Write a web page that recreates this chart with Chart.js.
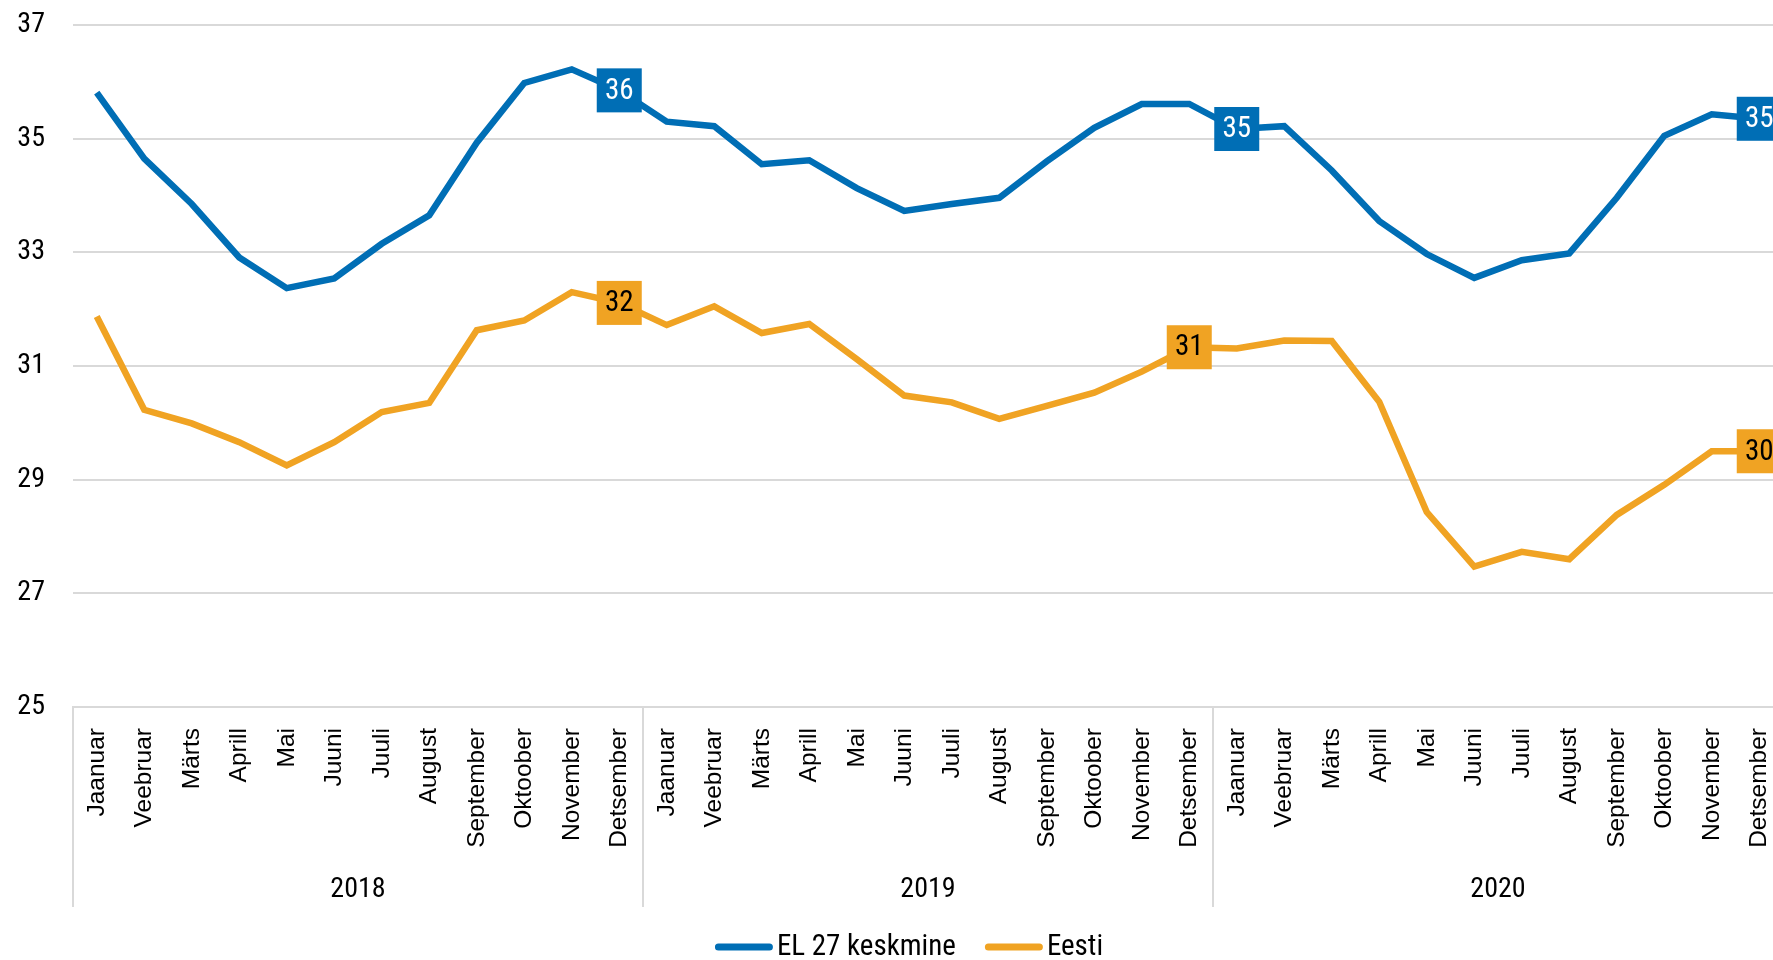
<!DOCTYPE html>
<html>
<head>
<meta charset="utf-8">
<script src="https://cdn.jsdelivr.net/npm/chart.js@4"></script>
<style>
  html, body { margin: 0; padding: 0; background: #fff; overflow: hidden; }
  canvas { display: block; }
</style>
</head>
<body>
<canvas id="chart" width="1818" height="960"></canvas>
<script>
// data
const months = ['Jaanuar', 'Veebruar', 'Märts', 'Aprill', 'Mai', 'Juuni', 'Juuli', 'August', 'September', 'Oktoober', 'November', 'Detsember'];
const years = ['2018', '2019', '2020'];
const labels = [...months, ...months, ...months];

const el27 = [
    35.81, 34.65, 33.85, 32.91, 32.37, 32.54, 33.15, 33.65, 34.93, 35.98, 36.22, 35.85,
    35.30, 35.22, 34.55, 34.62, 34.13, 33.73, 33.85, 33.96, 34.60, 35.19, 35.61, 35.61,
    35.17, 35.22, 34.44, 33.55, 32.97, 32.55, 32.86, 32.98, 33.96, 35.05, 35.43, 35.35
];
const eesti = [
    31.87, 30.23, 29.99, 29.66, 29.25, 29.66, 30.19, 30.35, 31.63, 31.80, 32.30, 32.11,
    31.72, 32.05, 31.58, 31.74, 31.12, 30.48, 30.36, 30.07, 30.30, 30.53, 30.90, 31.33,
    31.31, 31.45, 31.44, 30.37, 28.43, 27.47, 27.73, 27.60, 28.38, 28.91, 29.50, 29.50
];
// which points get a value box
const el27Marked = [11, 24, 35];
const eestiMarked = [11, 23, 35];

const BLUE = '#006eb5';
const ORANGE = '#f0a323';
const GRID = '#d9d9d9';
const NARROW = "'Liberation Sans Narrow', 'Roboto Condensed', 'DejaVu Sans Condensed', sans-serif";
const WIDE = "'Liberation Sans', Arial, sans-serif";

// value boxes on the lines
const valueBoxes = {
    id: 'valueBoxes',
    afterDatasetsDraw(chart) {
        const ctx = chart.ctx;
        const sets = [
            { idx: el27Marked, meta: chart.getDatasetMeta(0), data: el27, fill: BLUE, text: '#fff' },
            { idx: eestiMarked, meta: chart.getDatasetMeta(1), data: eesti, fill: ORANGE, text: '#000' }
        ];
        ctx.save();
        ctx.font = '29px ' + NARROW;
        ctx.textAlign = 'center';
        ctx.textBaseline = 'middle';
        sets.forEach(s => {
            s.idx.forEach(i => {
                const p = s.meta.data[i];
                ctx.fillStyle = s.fill;
                ctx.fillRect(p.x - 22.5, p.y - 22, 45, 44);
                ctx.fillStyle = s.text;
                ctx.fillText(Math.round(s.data[i]).toString(), p.x, p.y + 1);
            });
        });
        ctx.restore();
    }
};

// year groups under the month labels + legend
const yearGroups = {
    id: 'yearGroups',
    afterDraw(chart) {
        const ctx = chart.ctx;
        const area = chart.chartArea;
        const x = chart.scales.x;
        ctx.save();
        ctx.strokeStyle = GRID;
        ctx.lineWidth = 2;
        ctx.fillStyle = '#000';
        ctx.font = '28px ' + NARROW;
        ctx.textAlign = 'center';
        ctx.textBaseline = 'middle';
        let start = area.left;
        years.forEach((yr, g) => {
            const last = g * 12 + 11;
            const end = last + 1 < labels.length
                ? (x.getPixelForValue(last) + x.getPixelForValue(last + 1)) / 2
                : area.right;
            ctx.beginPath();
            ctx.moveTo(start, area.bottom);
            ctx.lineTo(start, 907);
            ctx.stroke();
            ctx.fillText(yr, (start + end) / 2, 890);
            start = end;
        });
        ctx.beginPath();
        ctx.moveTo(start, area.bottom);
        ctx.lineTo(start, 907);
        ctx.stroke();

        // legend
        const items = chart.data.datasets.map(d => ({ text: d.label, color: d.borderColor }));
        const lineLen = 58, gapText = 4, gapItem = 29;
        ctx.font = '29px ' + NARROW;
        const widths = items.map(it => lineLen + gapText + ctx.measureText(it.text).width);
        const total = widths.reduce((a, b) => a + b, 0) + gapItem * (items.length - 1);
        let lx = chart.width / 2 - total / 2;
        const ly = 947;
        ctx.textAlign = 'left';
        ctx.lineCap = 'round';
        items.forEach((it, i) => {
            ctx.strokeStyle = it.color;
            ctx.lineWidth = 7;
            ctx.beginPath();
            ctx.moveTo(lx + 3.5, ly);
            ctx.lineTo(lx + lineLen - 3.5, ly);
            ctx.stroke();
            ctx.fillStyle = '#000';
            ctx.fillText(it.text, lx + lineLen + gapText, ly + 1);
            lx += widths[i] + gapItem;
        });
        ctx.restore();
    }
};

new Chart(document.getElementById('chart'), {
    type: 'line',
    data: {
        labels: labels,
        datasets: [
            {
                label: 'EL 27 keskmine',
                data: el27,
                borderColor: BLUE,
                backgroundColor: BLUE,
                borderWidth: 6.5,
                pointRadius: 0,
                tension: 0
            },
            {
                label: 'Eesti',
                data: eesti,
                borderColor: ORANGE,
                backgroundColor: ORANGE,
                borderWidth: 6.5,
                pointRadius: 0,
                tension: 0
            }
        ]
    },
    options: {
        responsive: false,
        animation: false,
        layout: { padding: { top: 25, right: 35, left: 0, bottom: 0 } },
        plugins: {
            legend: { display: false },
            tooltip: { enabled: false }
        },
        scales: {
            x: {
                offset: true,
                grid: { display: false, drawTicks: false },
                border: { display: true, color: GRID, width: 2 },
                ticks: {
                    autoSkip: false,
                    maxRotation: 90,
                    minRotation: 90,
                    padding: 21,
                    color: '#000',
                    font: { family: WIDE, size: 24.5 }
                },
                afterFit(scale) { scale.height = 253; }
            },
            y: {
                min: 25,
                max: 37,
                ticks: {
                    stepSize: 2,
                    padding: 28,
                    color: '#000',
                    font: { family: NARROW, size: 28 }
                },
                grid: { color: GRID, lineWidth: 2, drawTicks: false },
                border: { display: false },
                afterFit(scale) {
                    scale.width = 73;
                    scale.paddingTop = 0;
                    scale.paddingBottom = 0;
                }
            }
        }
    },
    plugins: [valueBoxes, yearGroups]
});
</script>
</body>
</html>
